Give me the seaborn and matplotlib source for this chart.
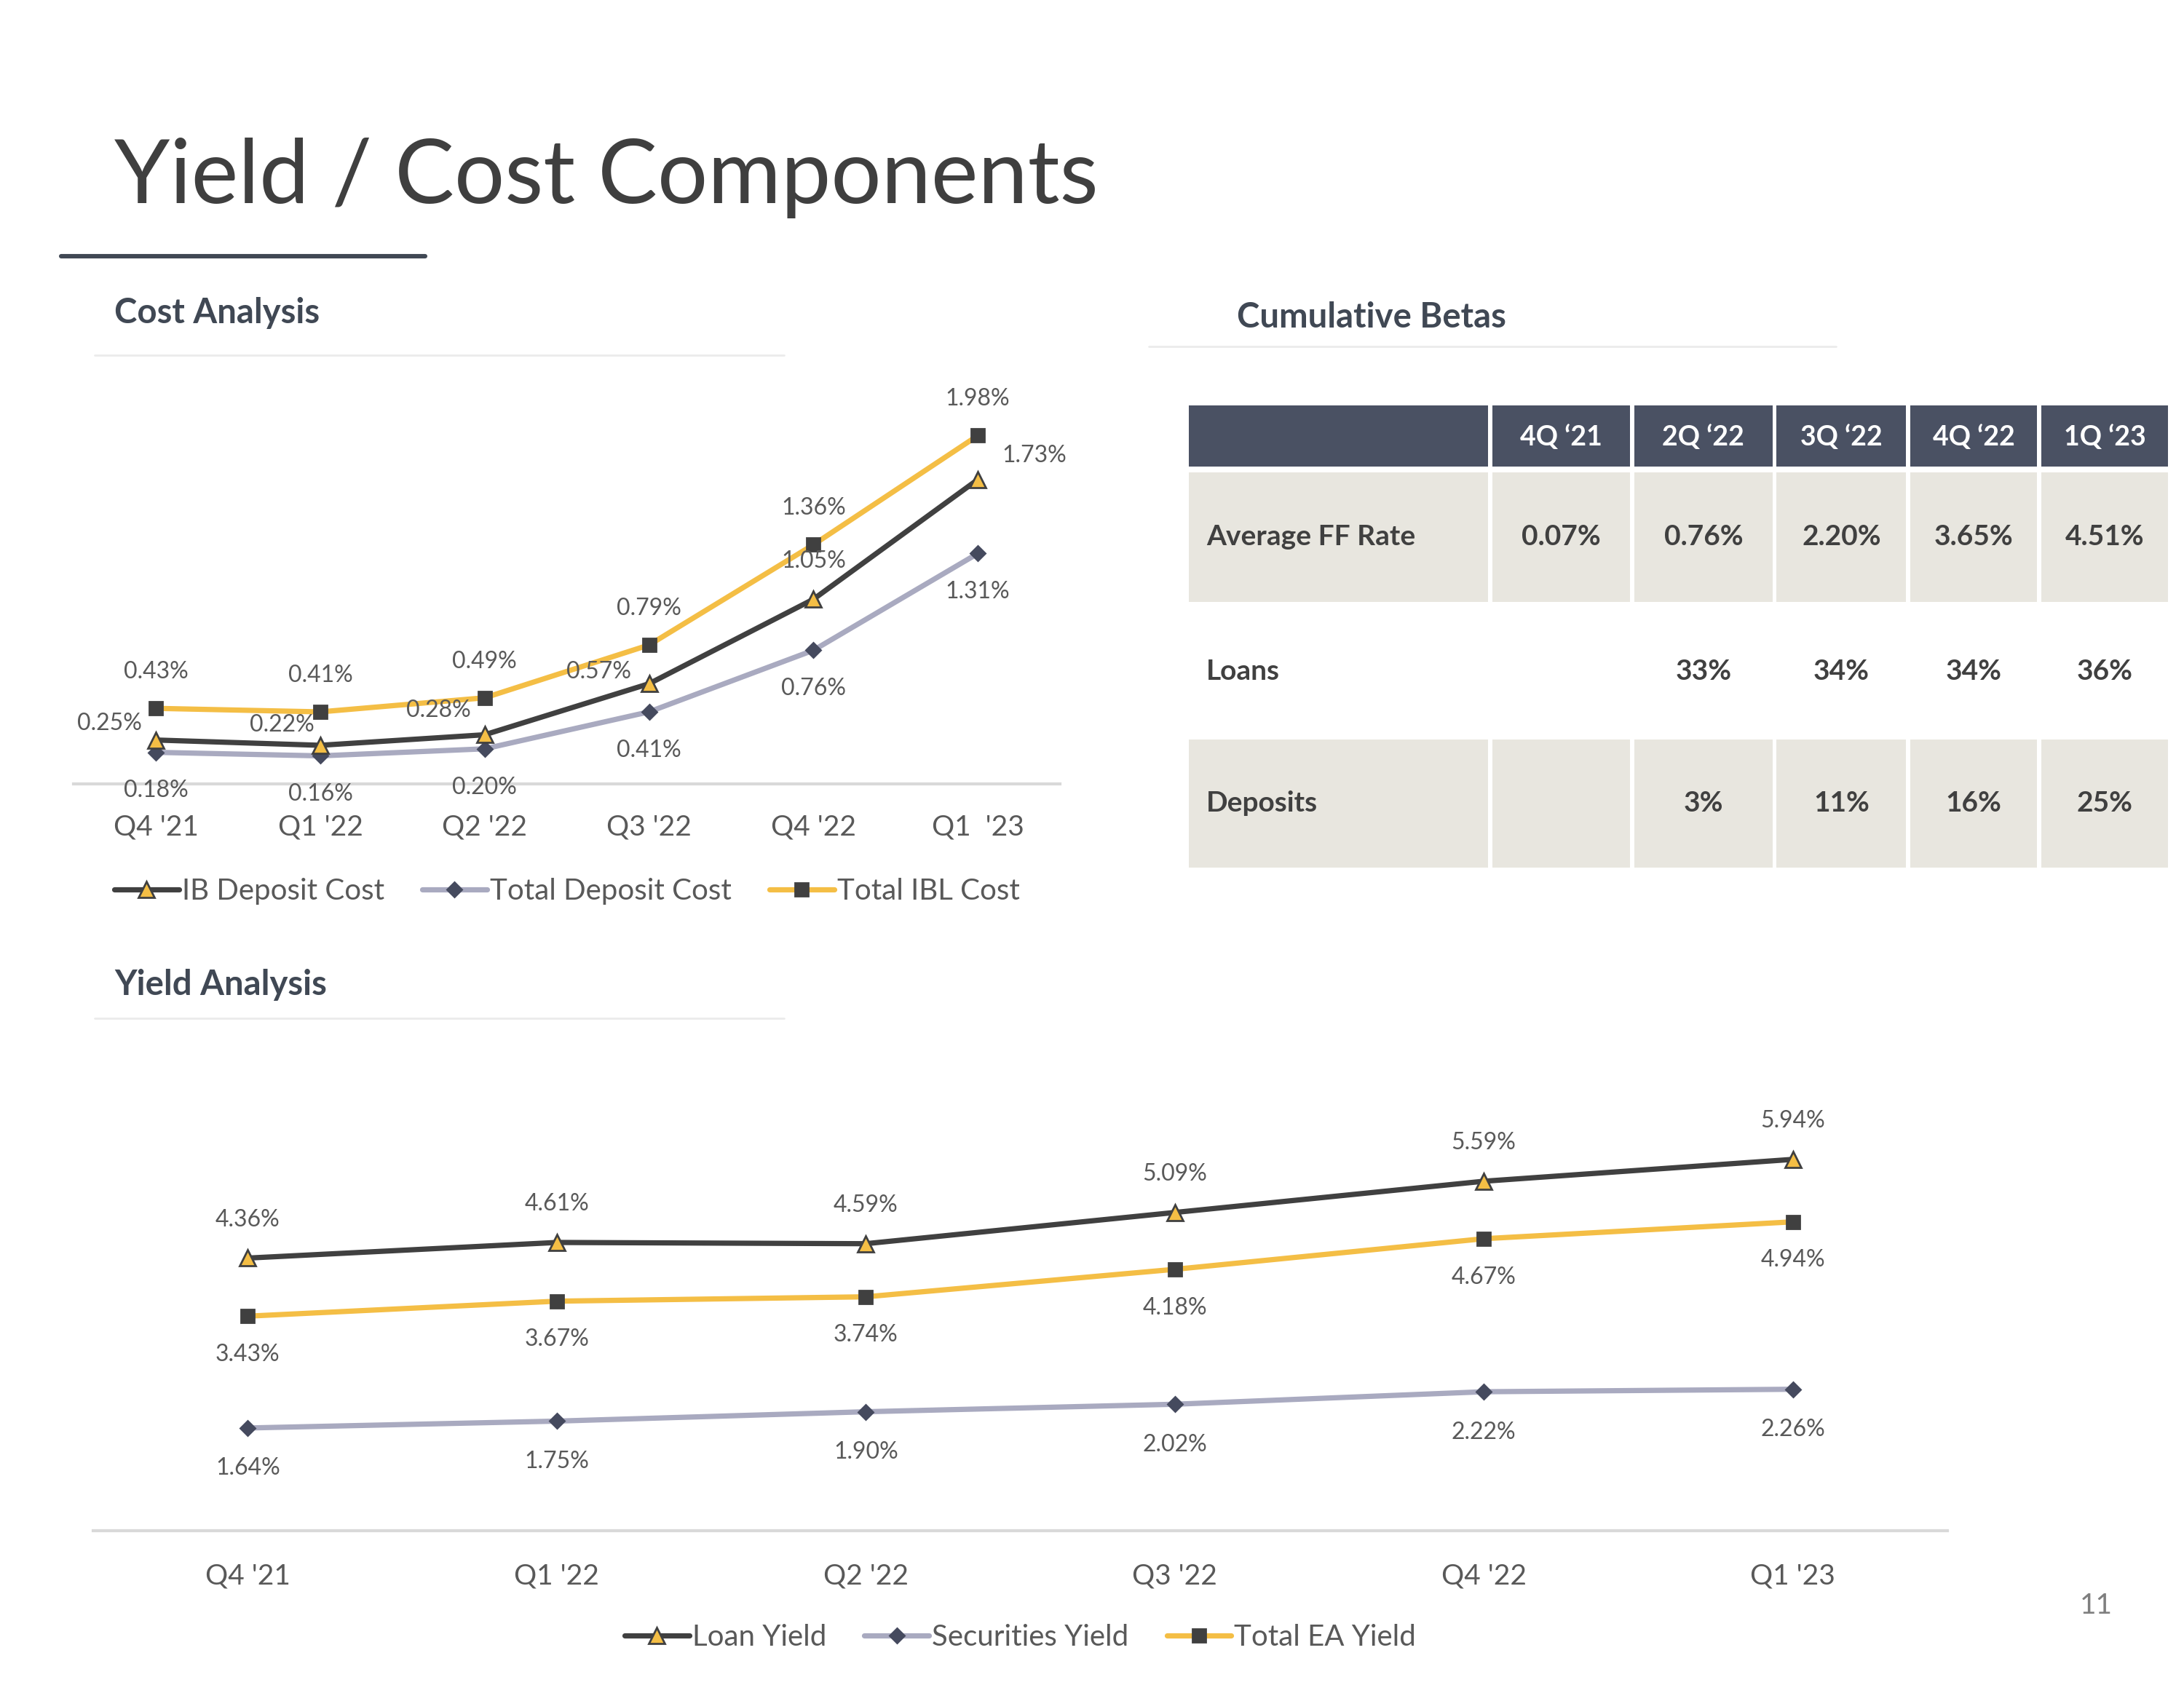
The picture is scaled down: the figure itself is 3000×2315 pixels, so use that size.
import numpy as np
import pandas as pd
import matplotlib
matplotlib.use("Agg")
import matplotlib.pyplot as plt
from matplotlib.patches import Rectangle
import seaborn as sns

# ---- data ----
quarters_cost = ["Q4 '21", "Q1 '22", "Q2 '22", "Q3 '22", "Q4 '22", "Q1  '23"]
ib_deposit_cost = [0.25, 0.22, 0.28, 0.57, 1.05, 1.73]
total_deposit_cost = [0.18, 0.16, 0.20, 0.41, 0.76, 1.31]
total_ibl_cost = [0.43, 0.41, 0.49, 0.79, 1.36, 1.98]

quarters_yield = ["Q4 '21", "Q1 '22", "Q2 '22", "Q3 '22", "Q4 '22", "Q1 '23"]
loan_yield = [4.36, 4.61, 4.59, 5.09, 5.59, 5.94]
securities_yield = [1.64, 1.75, 1.90, 2.02, 2.22, 2.26]
total_ea_yield = [3.43, 3.67, 3.74, 4.18, 4.67, 4.94]

beta_cols = ["4Q \u201821", "2Q \u201822", "3Q \u201822", "4Q \u201822", "1Q \u201823"]
beta_rows = ["Average FF Rate", "Loans", "Deposits"]
avg_ff_rate = ["0.07%", "0.76%", "2.20%", "3.65%", "4.51%"]
loans_beta = ["", "33%", "34%", "34%", "36%"]
deposits_beta = ["", "3%", "11%", "16%", "25%"]

# ---- style ----
DARK = "#404040"
GOLD = "#F4BE45"
LAVENDER = "#A9AAC0"
NAVY = "#454A5E"
TXT = "#595959"
HEAD = "#404854"

sns.set_theme(style="white")
plt.rcParams["font.family"] = ["Lato", "DejaVu Sans"]

W, H = 1568, 1210  # layout grid (reference scale)
fig = plt.figure(figsize=(15, 11.575), dpi=200)


def box(x0, y0, x1, y1):
    return [x0 / W, 1 - y1 / H, (x1 - x0) / W, (y1 - y0) / H]


# overlay for slide text and table
ov = fig.add_axes([0, 0, 1, 1])
ov.set_xlim(0, W)
ov.set_ylim(H, 0)
ov.axis("off")

ov.text(82, 128, "Yield / Cost Components", fontsize=44, color="#3F3F3F",
        va="center", ha="left")
ov.plot([44, 305], [184, 184], color=HEAD, lw=2.2)

ov.text(82, 225, "Cost Analysis", fontsize=17, fontweight="bold", color=HEAD, va="center")
ov.plot([68, 563], [255, 255], color="#EBEBEB", lw=1)
ov.text(82, 707, "Yield Analysis", fontsize=17, fontweight="bold", color=HEAD, va="center")
ov.plot([68, 563], [731, 731], color="#EBEBEB", lw=1)
ov.text(888, 228, "Cumulative Betas", fontsize=17, fontweight="bold", color=HEAD, va="center")
ov.plot([825, 1318], [249, 249], color="#EBEBEB", lw=1)
ov.text(1505, 1153, "11", fontsize=14, color="#7F7F7F", ha="center", va="center")

# table
col_edges = [852, 1070, 1172, 1274, 1370, 1464, 1558]
row_edges = [(291, 335), (339, 432), (436, 528), (531, 623)]
row_fill = ["#4A5163", "#E8E6DF", "white", "#E8E6DF"]
gap = 1.5
for ri, (y0, y1) in enumerate(row_edges):
    for ci in range(len(col_edges) - 1):
        x0, x1 = col_edges[ci], col_edges[ci + 1]
        ov.add_patch(Rectangle((x0 + gap, y0), x1 - x0 - 2 * gap, y1 - y0,
                               facecolor=row_fill[ri], edgecolor="none"))
for ci, lab in enumerate(beta_cols):
    xc = (col_edges[ci + 1] + col_edges[ci + 2]) / 2
    ov.text(xc, 314, lab, color="white", fontsize=13.5, fontweight="bold",
            ha="center", va="center")
for ri, vals in enumerate([avg_ff_rate, loans_beta, deposits_beta]):
    y0, y1 = row_edges[ri + 1]
    yc = (y0 + y1) / 2
    ov.text(866, yc, beta_rows[ri], color=DARK, fontsize=14, fontweight="bold",
            ha="left", va="center")
    for ci, v in enumerate(vals):
        xc = (col_edges[ci + 1] + col_edges[ci + 2]) / 2
        ov.text(xc, yc, v, color=DARK, fontsize=14, fontweight="bold",
                ha="center", va="center")


def draw_series(ax, df, col, color, marker, mfc, mec, ms, offsets, label):
    sns.lineplot(data=df, x="pos", y=col, ax=ax, color=color, lw=2.6,
                 marker=marker, markersize=ms, markerfacecolor=mfc,
                 markeredgecolor=mec, markeredgewidth=1.0, label=label,
                 legend=False)
    for i, (x, y) in enumerate(zip(df["pos"], df[col])):
        off = offsets[i] if isinstance(offsets, list) else offsets
        ax.annotate(f"{y:.2f}%", (x, y), textcoords="offset points", xytext=off,
                    ha="center", va="center", fontsize=11.5, color=TXT)


def style_axes(ax, labels, ymax, pad):
    ax.set_xlim(-0.5, 5.5)
    ax.set_ylim(0, ymax)
    ax.set_xticks(range(len(labels)))
    ax.set_xticklabels(labels, fontsize=14, color=TXT)
    ax.tick_params(axis="x", length=0, pad=pad)
    ax.set_yticks([])
    ax.set_xlabel("")
    ax.set_ylabel("")
    for s in ["top", "right", "left"]:
        ax.spines[s].set_visible(False)
    ax.spines["bottom"].set_color("#D9D9D9")
    ax.spines["bottom"].set_linewidth(1.5)
    ax.patch.set_alpha(0)


def add_legend(ax, names, yoff):
    h, l = ax.get_legend_handles_labels()
    order = [l.index(n) for n in names]
    ax.legend([h[i] for i in order], [l[i] for i in order], ncol=3, frameon=False,
              loc="center", bbox_to_anchor=(0.5, yoff), fontsize=14.5,
              handlelength=2.2, handletextpad=0.1, columnspacing=1.3,
              labelcolor=TXT)


# ---- cost chart ----
cost_df = pd.DataFrame({"pos": np.arange(len(quarters_cost)),
                        "ib": ib_deposit_cost, "td": total_deposit_cost,
                        "ibl": total_ibl_cost})
ax1 = fig.add_axes(box(53, 285, 761, 563))
ib_offsets = [(-23, 8), (-19, 10), (-23, 12), (-25, 6), (0, 19), (28, 12)]
draw_series(ax1, cost_df, "td", LAVENDER, "D", NAVY, NAVY, 5, (0, -19), "Total Deposit Cost")
draw_series(ax1, cost_df, "ib", DARK, "^", GOLD, DARK, 8, ib_offsets, "IB Deposit Cost")
draw_series(ax1, cost_df, "ibl", GOLD, "s", DARK, DARK, 6.5, (0, 18), "Total IBL Cost")
style_axes(ax1, quarters_cost, 2.2, 15)
add_legend(ax1, ["IB Deposit Cost", "Total Deposit Cost", "Total IBL Cost"], -0.277)

# ---- yield chart ----
yield_df = pd.DataFrame({"pos": np.arange(len(quarters_yield)),
                         "loan": loan_yield, "sec": securities_yield,
                         "ea": total_ea_yield})
ax2 = fig.add_axes(box(67, 785, 1398, 1099))
draw_series(ax2, yield_df, "sec", LAVENDER, "D", NAVY, NAVY, 5, (0, -20), "Securities Yield")
draw_series(ax2, yield_df, "ea", GOLD, "s", DARK, DARK, 6.5, (0, -19), "Total EA Yield")
draw_series(ax2, yield_df, "loan", DARK, "^", GOLD, DARK, 8, (0, 19), "Loan Yield")
style_axes(ax2, quarters_yield, 7.0, 16)
add_legend(ax2, ["Loan Yield", "Securities Yield", "Total EA Yield"], -0.245)

fig.savefig("out.png", dpi=200, facecolor="white")
